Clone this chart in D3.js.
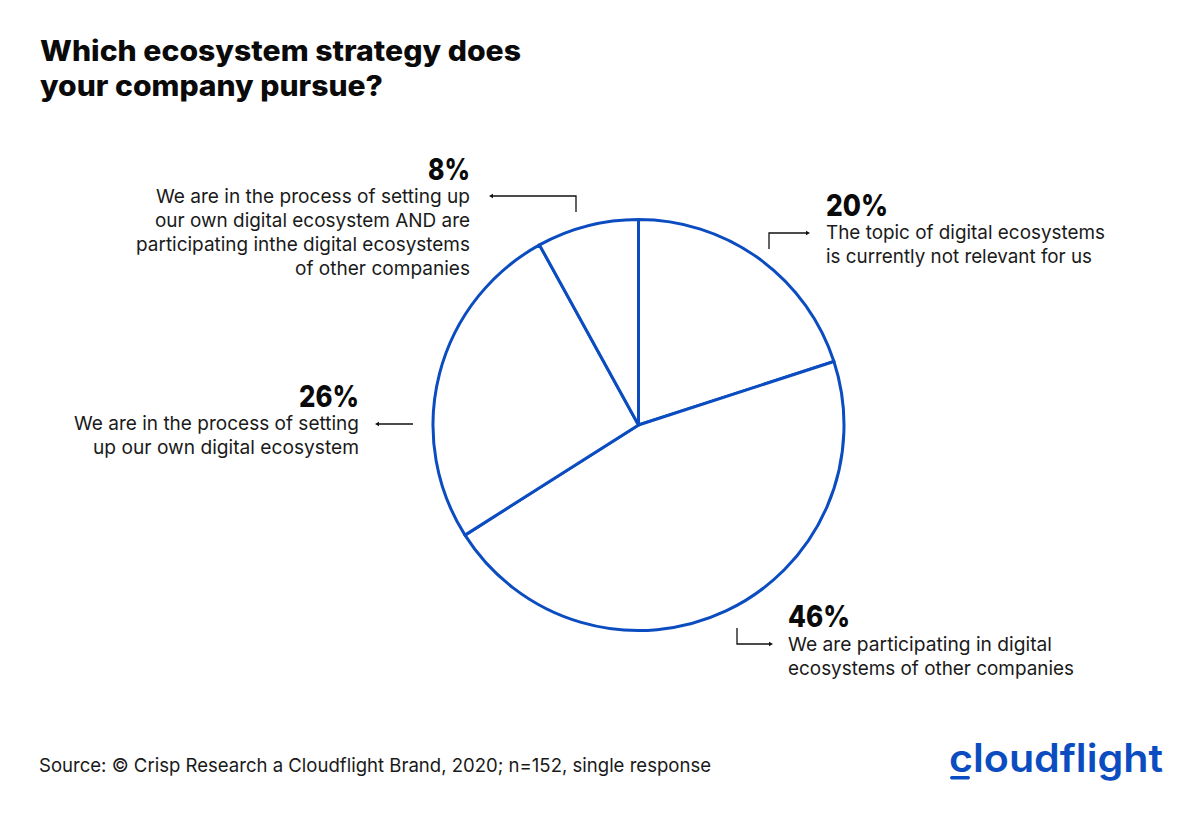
<!DOCTYPE html>
<html>
<head>
<meta charset="utf-8">
<script src="https://cdnjs.cloudflare.com/ajax/libs/d3/7.8.5/d3.min.js"></script>
<style>
  html, body { margin: 0; padding: 0; background: #fff; }
  svg { display: block; }
  text { font-family: Inter, "Noto Sans", sans-serif; }
</style>
</head>
<body>
<div id="container"></div>
<script>
"use strict";

const titleLines = ["Which ecosystem strategy does", "your company pursue?"];
const sourceText = "Source: © Crisp Research a Cloudflight Brand, 2020; n=152, single response";
const logoText = "cloudflight";

const categories = ["relevant", "participating", "own", "both"];
const values = [20, 46, 26, 8];
const percentLabels = ["20%", "46%", "26%", "8%"];
const labelLines = [
  ["The topic of digital ecosystems", "is currently not relevant for us"],
  ["We are participating in digital", "ecosystems of other companies"],
  ["We are in the process of setting", "up our own digital ecosystem"],
  ["We are in the process of setting up", "our own digital ecosystem AND are", "participating inthe digital ecosystems", "of other companies"],
];

const width = 1200;
const height = 819;
const blue = "#0b4dc0";
const ink = "#1a1a1a";

// Anchor of the big percent figure for each label, plus the width of each text line.
const labelLayout = [
  { x: 826, y: 216, anchor: "start", pct: 62, gap: 23, widths: [279, 266] },
  { x: 788, y: 627, anchor: "start", pct: 62, gap: 24, widths: [264, 286] },
  { x: 359, y: 407, anchor: "end", pct: 60, gap: 23, widths: [285, 266] },
  { x: 470, y: 180, anchor: "end", pct: 42, gap: 23, widths: [314, 315, 334, 175] },
];

// Leader lines, drawn from the elbow end to the arrow head.
const leaders = [
  [[769, 249], [769, 233], [806, 233]],
  [[737, 628], [737, 644], [769, 644]],
  [[413, 424], [379, 424]],
  [[576, 212], [576, 196], [493, 196]],
];

const svg = d3.select("#container").append("svg")
  .attr("width", width)
  .attr("height", height);

svg.append("g")
  .selectAll("text")
  .data(titleLines)
  .enter()
  .append("text")
  .attr("x", 40)
  .attr("y", (d, i) => 61 + i * 35)
  .attr("font-size", 28)
  .attr("font-weight", 800)
  .attr("fill", "#0a0a0a")
  .attr("textLength", (d, i) => [481, 343][i])
  .attr("lengthAdjust", "spacingAndGlyphs")
  .text((d) => d);

// Pie, clockwise from twelve o'clock.
const pie = d3.pie().sort(null).value((d) => d);
const arc = d3.arc().innerRadius(0).outerRadius(205.5);

svg.append("g")
  .attr("transform", "translate(638.5, 425)")
  .selectAll("path")
  .data(pie(values))
  .enter()
  .append("path")
  .attr("d", arc)
  .attr("fill", "#fff")
  .attr("stroke", blue)
  .attr("stroke-width", 3)
  .attr("stroke-linejoin", "round");

const labels = svg.append("g")
  .selectAll("g")
  .data(categories)
  .enter()
  .append("g");

labels.append("text")
  .attr("x", (d, i) => labelLayout[i].x)
  .attr("y", (d, i) => labelLayout[i].y)
  .attr("text-anchor", (d, i) => labelLayout[i].anchor)
  .attr("font-size", 30)
  .attr("font-weight", 800)
  .attr("fill", "#0a0a0a")
  .attr("textLength", (d, i) => labelLayout[i].pct)
  .attr("lengthAdjust", "spacingAndGlyphs")
  .text((d, i) => percentLabels[i]);

labels.each(function (d, i) {
  const layout = labelLayout[i];
  d3.select(this)
    .selectAll(".line")
    .data(labelLines[i])
    .enter()
    .append("text")
    .attr("class", "line")
    .attr("x", layout.x)
    .attr("y", (t, j) => layout.y + layout.gap + j * 24)
    .attr("text-anchor", layout.anchor)
    .attr("font-size", 19)
    .attr("fill", ink)
    .attr("textLength", (t, j) => layout.widths[j])
    .attr("lengthAdjust", "spacingAndGlyphs")
    .text((t) => t);
});

const leaderLine = d3.line();
const leaderGroup = svg.append("g");

leaderGroup.selectAll("path")
  .data(leaders)
  .enter()
  .append("path")
  .attr("d", (d) => leaderLine(d))
  .attr("fill", "none")
  .attr("stroke", "#111")
  .attr("stroke-width", 1.3);

// Small arrow heads.
leaderGroup.selectAll("polygon")
  .data(leaders)
  .enter()
  .append("polygon")
  .attr("points", (d) => {
    const [tx, ty] = d[d.length - 1];
    const dir = tx > d[d.length - 2][0] ? 1 : -1;
    return `${tx},${ty - 2.2} ${tx + dir * 4},${ty} ${tx},${ty + 2.2}`;
  })
  .attr("fill", "#111");

svg.append("text")
  .attr("x", 39)
  .attr("y", 772)
  .attr("font-size", 19)
  .attr("fill", ink)
  .attr("textLength", 672)
  .attr("lengthAdjust", "spacingAndGlyphs")
  .text(sourceText);

// Logo: word mark with the bar under the c.
svg.append("text")
  .attr("x", 949)
  .attr("y", 772)
  .attr("font-size", 39)
  .attr("font-weight", 600)
  .attr("fill", blue)
  .attr("textLength", 214)
  .attr("lengthAdjust", "spacingAndGlyphs")
  .text(logoText);

svg.append("rect")
  .attr("x", 950)
  .attr("y", 776)
  .attr("width", 20)
  .attr("height", 3.5)
  .attr("rx", 1.7)
  .attr("fill", blue);
</script>
</body>
</html>
